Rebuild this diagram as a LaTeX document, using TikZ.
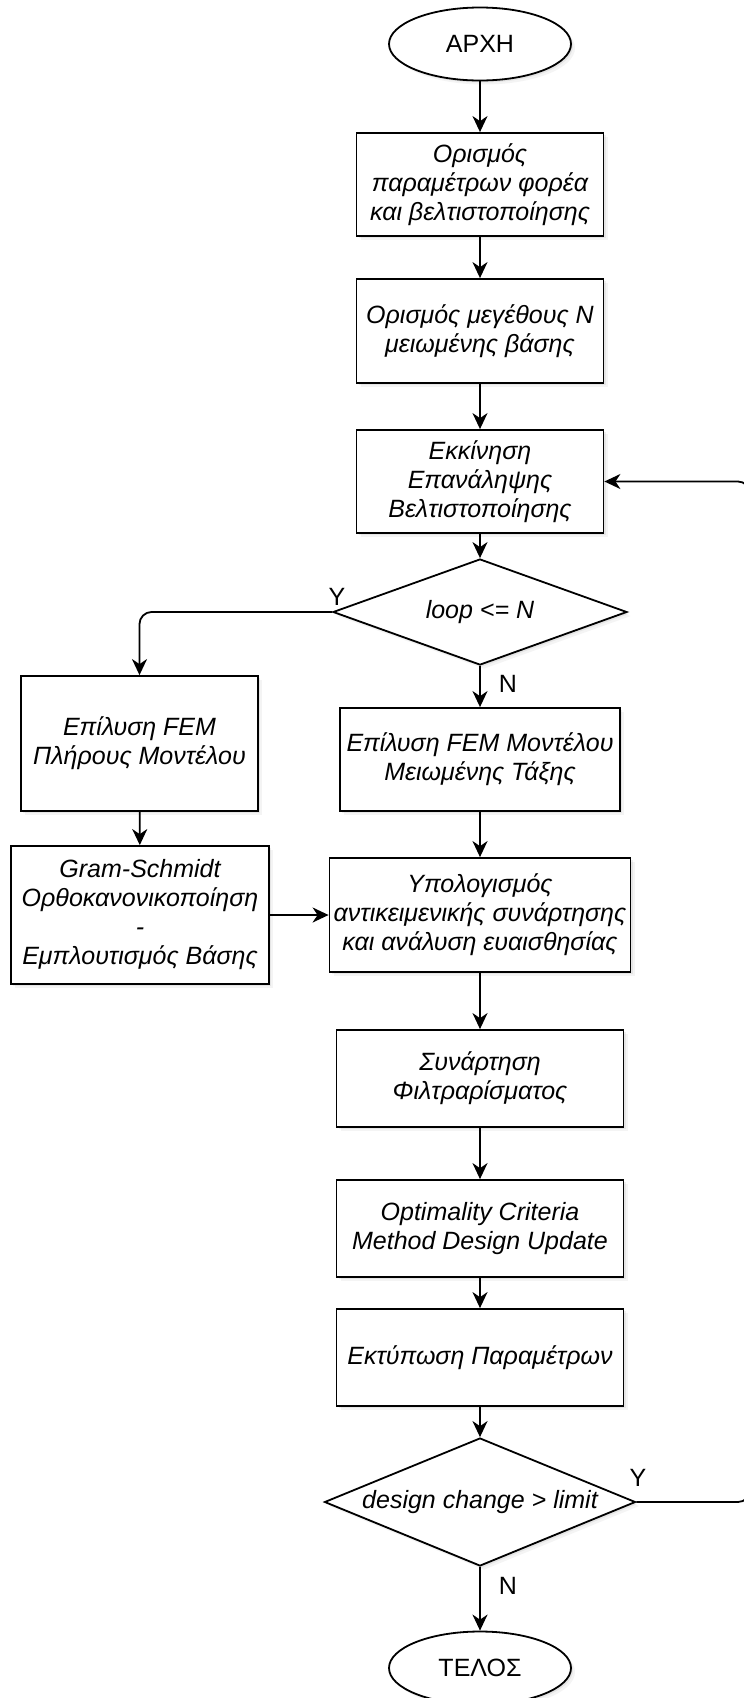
\documentclass[tikz,border=0pt]{standalone}
\usepackage{fontspec}
\setmainfont{Liberation Sans}
\usetikzlibrary{shapes.geometric,arrows.meta,shadows}
\tikzset{
  softshadow/.style={drop shadow={shadow xshift=2pt,shadow yshift=-2pt,opacity=0.10,fill=black!60},
                     drop shadow={shadow xshift=4pt,shadow yshift=-4pt,opacity=0.07,fill=black!60}},
  basefont/.style={font=\fontsize{25}{29}\selectfont},
  procbox/.style={rectangle,draw,line width=1.8pt,fill=white,softshadow,basefont,
                  font=\fontsize{25}{29}\selectfont\itshape,align=center,inner sep=0pt},
  termin/.style={ellipse,draw,line width=1.8pt,fill=white,softshadow,basefont,
                 inner sep=0pt,minimum width=182pt,minimum height=73pt},
  decis/.style={diamond,draw,line width=1.8pt,fill=white,softshadow,
                font=\fontsize{25}{29}\selectfont\itshape,inner sep=0pt,aspect=2.5},
  flow/.style={line width=1.8pt,-{Stealth[length=16pt,width=15pt,inset=5pt]}},
  lbl/.style={basefont,inner sep=0pt}
}
\begin{document}
\begin{tikzpicture}[x=1pt,y=-1pt]
\useasboundingbox (0,0) rectangle (744,1698);
\clip (0,0) rectangle (744,1698);
\fill[white] (0,0) rectangle (744,1698);

\node[termin] (start) at (480,44) {ΑΡΧΗ};
\node[procbox,minimum width=247pt,minimum height=103pt] (b1) at (480,184.5)
  {Ορισμός\\παραμέτρων φορέα\\και βελτιστοποίησης};
\node[procbox,minimum width=247pt,minimum height=104pt] (b2) at (480,331)
  {Ορισμός μεγέθους N\\μειωμένης βάσης};
\node[procbox,minimum width=247pt,minimum height=103pt] (b3) at (480,481.5)
  {Εκκίνηση\\Επανάληψης\\Βελτιστοποίησης};
\node[decis,minimum width=294pt,minimum height=106pt] (d1) at (480,612) {loop <= N};
\node[procbox,minimum width=237pt,minimum height=135pt] (bL1) at (139.5,743.5)
  {Επίλυση FEM\\Πλήρους Μοντέλου};
\node[procbox,minimum width=280pt,minimum height=103pt] (bR1) at (480,759.5)
  {Επίλυση FEM Μοντέλου\\Μειωμένης Τάξης};
\node[procbox,minimum width=258pt,minimum height=138pt] (bL2) at (140,915)
  {Gram-Schmidt\\Ορθοκανονικοποίηση\\-\\Εμπλουτισμός Βάσης};
\node[procbox,minimum width=301pt,minimum height=114pt] (bR2) at (480,915)
  {Υπολογισμός\\αντικειμενικής συνάρτησης\\και ανάλυση ευαισθησίας};
\node[procbox,minimum width=287pt,minimum height=97pt] (bR3) at (480,1078.5)
  {Συνάρτηση\\Φιλτραρίσματος};
\node[procbox,minimum width=287pt,minimum height=97pt] (bR4) at (480,1228.5)
  {Optimality Criteria\\Method Design Update};
\node[procbox,minimum width=287pt,minimum height=97pt] (bR5) at (480,1357.5)
  {Εκτύπωση Παραμέτρων};
\node[decis,minimum width=311pt,minimum height=128pt] (d2) at (480,1502) {design change > limit};
\node[termin] (end) at (480,1668) {ΤΕΛΟΣ};

\coordinate (lc) at (750,1502);
\coordinate (lt) at (750,481.5);

\draw[flow] (start) -- (b1);
\draw[flow] (b1) -- (b2);
\draw[flow] (b2) -- (b3);
\draw[flow] (b3) -- (d1);
\draw[flow,rounded corners=12pt] (d1.west) -| (bL1.north);
\draw[flow] (d1.south) -- (bR1.north);
\draw[flow] (bL1) -- (bL2);
\draw[flow] (bR1.south) -- (bR2.north);
\draw[flow] (bL2.east) -- (bR2.west);
\draw[flow] (bR2) -- (bR3);
\draw[flow] (bR3) -- (bR4);
\draw[flow] (bR4) -- (bR5);
\draw[flow] (bR5.south) -- (d2.north);
\draw[flow] (d2.south) -- (end.north);
\draw[flow,rounded corners=12pt] (d2.east) -- (lc) -- (lt) -- (b3.east);

\node[lbl] (y1) at (337,597) {Y};
\node[lbl] (n1) at (508,684) {N};
\node[lbl] (y2) at (638,1478) {Y};
\node[lbl] (n2) at (508,1586) {N};
\end{tikzpicture}
\end{document}
